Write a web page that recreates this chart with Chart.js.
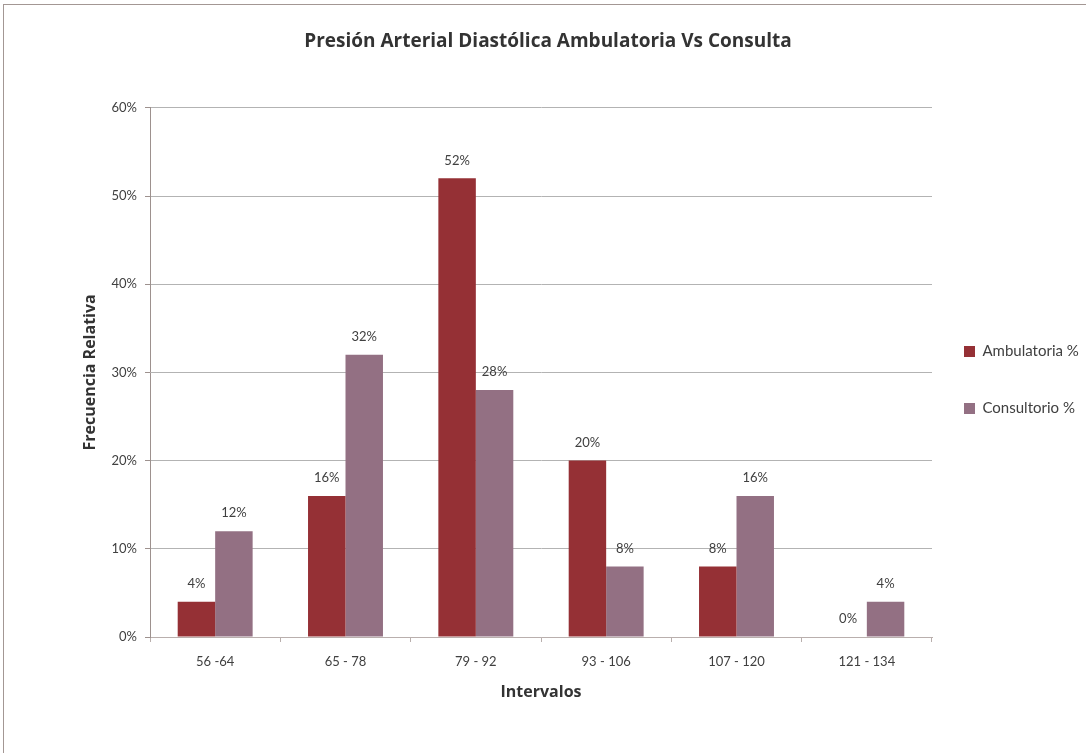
<!DOCTYPE html>
<html>
<head>
<meta charset="utf-8">
<script src="https://cdn.jsdelivr.net/npm/chart.js@4"></script>
<style>
  html, body { margin: 0; padding: 0; background: #fff; overflow: hidden; }
  #frame { position: absolute; left: 3px; top: 4px; width: 1200px; height: 900px; border: 1px solid #a39794; }
  #wrap { position: absolute; left: 0; top: 0; width: 1086px; height: 753px; }
</style>
</head>
<body>
<div id="frame"></div>
<div id="wrap"><canvas id="chart" width="1086" height="753"></canvas></div>
<script>
const categories = ['56 -64', '65 - 78', '79 - 92', '93 - 106', '107 - 120', '121 - 134'];
const ambulatoria = [4, 16, 52, 20, 8, 0];
const consultorio = [12, 32, 28, 8, 16, 4];
const yTicks = [0, 10, 20, 30, 40, 50, 60];

const FONT = 'Lato, "Open Sans", sans-serif';
const BOLD = '"Open Sans", Lato, sans-serif';
const TEXT = '#404040';

// value labels above each bar
const barLabels = {
  id: 'barLabels',
  afterDatasetsDraw(chart) {
    const ctx = chart.ctx;
    ctx.save();
    ctx.font = '13px ' + FONT;
    ctx.fillStyle = TEXT;
    ctx.textAlign = 'center';
    ctx.textBaseline = 'middle';
    chart.data.datasets.forEach((ds, i) => {
      chart.getDatasetMeta(i).data.forEach((bar, j) => {
        ctx.fillText(ds.data[j] + '%', bar.x, bar.y - 18);
      });
    });
    ctx.restore();
  }
};

// legend placement like the spreadsheet one
const legendPlace = {
  id: 'legendPlace',
  beforeInit(chart) {
    const fit = chart.legend.fit;
    chart.legend.fit = function () {
      fit.call(this);
      this.width = 154;
    };
  },
  afterLayout(chart) {
    chart.legend.left -= 10;
    chart.legend.top += 7;
    chart.titleBlock.left += 5;
    chart.titleBlock.right += 5;
  }
};

new Chart(document.getElementById('chart'), {
  type: 'bar',
  data: {
    labels: categories,
    datasets: [
      { label: 'Ambulatoria %', data: ambulatoria, backgroundColor: '#953035', categoryPercentage: 0.575, barPercentage: 1 },
      { label: 'Consultorio %', data: consultorio, backgroundColor: '#937083', categoryPercentage: 0.575, barPercentage: 1 },
    ],
  },
  options: {
    responsive: false,
    animation: false,
    layout: { padding: 0 },
    plugins: {
      title: {
        display: true,
        text: 'Presión Arterial Diastólica Ambulatoria Vs Consulta',
        color: '#333',
        font: { family: BOLD, size: 19, weight: 'bold' },
        padding: { top: 30, bottom: 55 },
      },
      legend: {
        position: 'right',
        labels: {
          boxWidth: 11, boxHeight: 11, padding: 42,
          color: TEXT, font: { family: FONT, size: 15 },
        },
      },
      tooltip: { enabled: false },
    },
    scales: {
      x: {
        afterFit(s) { s.height = 116; },
        grid: { display: true, drawOnChartArea: false, drawTicks: true, tickLength: 5, color: '#b9afad' },
        border: { color: '#b9afad' },
        ticks: { color: TEXT, font: { family: FONT, size: 13 }, padding: 12, maxRotation: 0 },
        title: { display: true, text: 'Intervalos', color: '#333', font: { family: BOLD, size: 16, weight: 'bold' }, padding: { top: 0, bottom: 51 } },
      },
      y: {
        min: 0, max: 60,
        afterFit(s) { s.width = 150; },
        afterBuildTicks(s) { s.ticks = yTicks.map(v => ({ value: v })); },
        grid: { color: '#b3b3b3', tickColor: '#9d918e', tickLength: 5 },
        border: { color: '#9d918e' },
        ticks: { color: TEXT, font: { family: FONT, size: 13 }, padding: 8, callback: v => v + '%' },
        title: { display: true, text: 'Frecuencia Relativa', color: '#333', font: { family: BOLD, size: 16, weight: 'bold' }, padding: { top: 81, bottom: 0 } },
      },
    },
  },
  plugins: [barLabels, legendPlace],
});
</script>
</body>
</html>
